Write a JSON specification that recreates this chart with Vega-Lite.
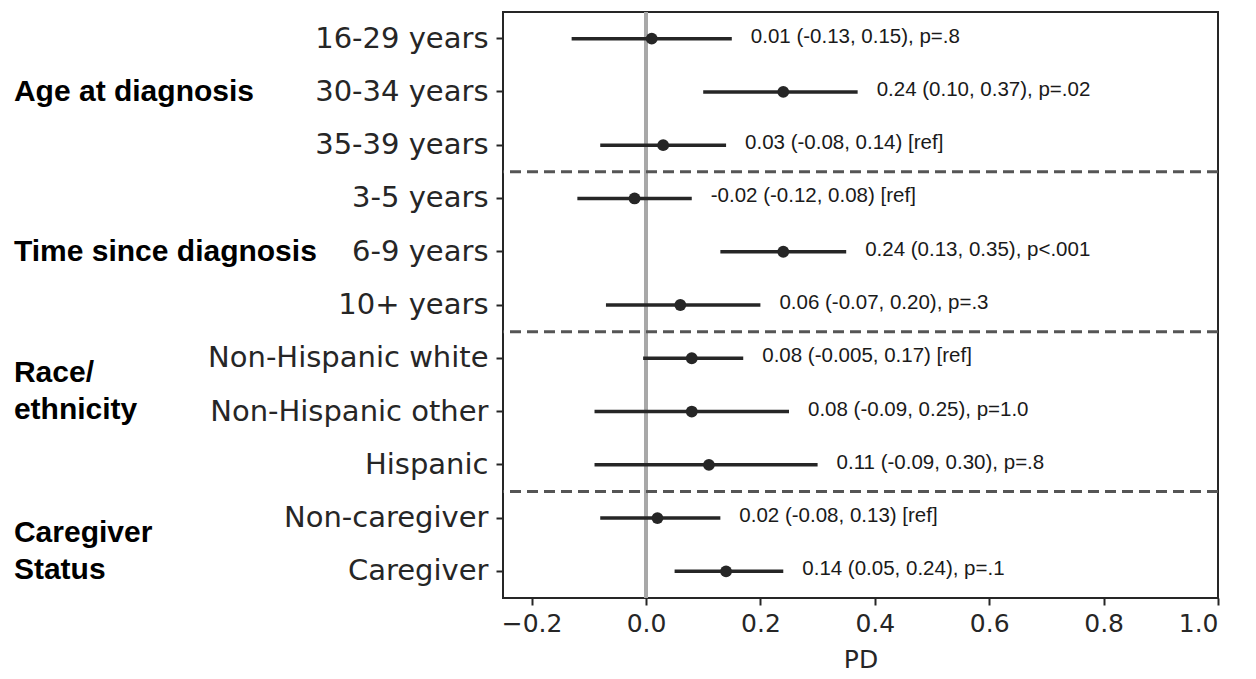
{
  "$schema": "https://vega.github.io/schema/vega-lite/v6.json",
  "autosize": "none",
  "width": 715,
  "height": 586,
  "padding": {"left": 503, "top": 12, "right": 38, "bottom": 81},
  "background": "white",
  "config": {
    "view": {"stroke": "#262626", "strokeWidth": 2},
    "axis": {"grid": false, "domain": false, "tickColor": "#262626", "tickSize": 7, "tickWidth": 2, "labelColor": "#262626", "labelFont": "DejaVu Sans", "titleFont": "DejaVu Sans", "titleColor": "#262626"}
  },
  "data": {
    "values": [
      {"row": "16-29 years", "group": "Age at diagnosis", "est": 0.01, "lo": -0.13, "hi": 0.15, "label": "0.01 (-0.13, 0.15), p=.8"},
      {"row": "30-34 years", "group": "Age at diagnosis", "est": 0.24, "lo": 0.10, "hi": 0.37, "label": "0.24 (0.10, 0.37), p=.02"},
      {"row": "35-39 years", "group": "Age at diagnosis", "est": 0.03, "lo": -0.08, "hi": 0.14, "label": "0.03 (-0.08, 0.14) [ref]"},
      {"row": "3-5 years", "group": "Time since diagnosis", "est": -0.02, "lo": -0.12, "hi": 0.08, "label": "-0.02 (-0.12, 0.08) [ref]"},
      {"row": "6-9 years", "group": "Time since diagnosis", "est": 0.24, "lo": 0.13, "hi": 0.35, "label": "0.24 (0.13, 0.35), p<.001"},
      {"row": "10+ years", "group": "Time since diagnosis", "est": 0.06, "lo": -0.07, "hi": 0.20, "label": "0.06 (-0.07, 0.20), p=.3"},
      {"row": "Non-Hispanic white", "group": "Race/\nethnicity", "est": 0.08, "lo": -0.005, "hi": 0.17, "label": "0.08 (-0.005, 0.17) [ref]"},
      {"row": "Non-Hispanic other", "group": "Race/\nethnicity", "est": 0.08, "lo": -0.09, "hi": 0.25, "label": "0.08 (-0.09, 0.25), p=1.0"},
      {"row": "Hispanic", "group": "Race/\nethnicity", "est": 0.11, "lo": -0.09, "hi": 0.30, "label": "0.11 (-0.09, 0.30), p=.8"},
      {"row": "Non-caregiver", "group": "Caregiver\nStatus", "est": 0.02, "lo": -0.08, "hi": 0.13, "label": "0.02 (-0.08, 0.13) [ref]"},
      {"row": "Caregiver", "group": "Caregiver\nStatus", "est": 0.14, "lo": 0.05, "hi": 0.24, "label": "0.14 (0.05, 0.24), p=.1"}
    ]
  },
  "encoding": {
    "y": {
      "field": "row", "type": "nominal",
      "sort": ["16-29 years", "30-34 years", "35-39 years", "3-5 years", "6-9 years", "10+ years", "Non-Hispanic white", "Non-Hispanic other", "Hispanic", "Non-caregiver", "Caregiver"],
      "scale": {"type": "band", "paddingInner": 0, "paddingOuter": 0, "domain": ["16-29 years", "30-34 years", "35-39 years", "3-5 years", "6-9 years", "10+ years", "Non-Hispanic white", "Non-Hispanic other", "Hispanic", "Non-caregiver", "Caregiver"]},
      "axis": {"title": null, "labelFontSize": 29, "labelPadding": 8, "labelLimit": 0}
    }
  },
  "layer": [
    {
      "mark": {"type": "rule", "color": "#a8a8a8", "strokeWidth": 3},
      "encoding": {"x": {"datum": 0, "type": "quantitative"}, "y": null}
    },
    {
      "transform": [{"filter": "indexof(['35-39 years','10+ years','Hispanic'], datum.row) >= 0"}],
      "mark": {"type": "rule", "color": "#555555", "strokeWidth": 3, "strokeDash": [11, 6]},
      "encoding": {"y": {"field": "row", "type": "nominal", "bandPosition": 1, "sort": ["16-29 years", "30-34 years", "35-39 years", "3-5 years", "6-9 years", "10+ years", "Non-Hispanic white", "Non-Hispanic other", "Hispanic", "Non-caregiver", "Caregiver"]}}
    },
    {
      "mark": {"type": "rule", "color": "#262626", "strokeWidth": 3.5},
      "encoding": {
        "x": {
          "field": "lo", "type": "quantitative",
          "scale": {"domain": [-0.25, 1.0], "nice": false, "zero": false},
          "axis": {"title": "PD", "values": [-0.2, 0, 0.2, 0.4, 0.6, 0.8, 1.0], "labelExpr": "replace(format(datum.value, '.1f'), '-', '\u2212')", "labelFontSize": 25, "labelPadding": 6, "titleFontSize": 25, "titleFontWeight": "normal", "titlePadding": 11}
        },
        "x2": {"field": "hi"}
      }
    },
    {
      "mark": {"type": "point", "filled": true, "color": "#262626", "opacity": 1, "size": 140},
      "encoding": {"x": {"field": "est", "type": "quantitative"}}
    },
    {
      "mark": {"type": "text", "align": "left", "baseline": "middle", "dx": 19, "dy": -2, "font": "Liberation Sans", "fontSize": 20.5, "color": "#1a1a1a"},
      "encoding": {"x": {"field": "hi", "type": "quantitative"}, "text": {"field": "label"}}
    },
    {
      "transform": [{"filter": "datum.row == '30-34 years' || datum.row == '6-9 years'"}],
      "mark": {"type": "text", "align": "left", "baseline": "middle", "font": "Liberation Sans", "fontWeight": "bold", "fontSize": 30, "color": "black"},
      "encoding": {"x": {"datum": -1.105, "type": "quantitative"}, "text": {"field": "group"}}
    },
    {
      "transform": [{"filter": "datum.row == 'Non-Hispanic white' || datum.row == 'Non-caregiver'"}],
      "mark": {"type": "text", "align": "left", "baseline": "middle", "dy": -12, "lineBreak": "\n", "lineHeight": 37, "font": "Liberation Sans", "fontWeight": "bold", "fontSize": 30, "color": "black"},
      "encoding": {
        "x": {"datum": -1.105, "type": "quantitative"},
        "y": {"field": "row", "type": "nominal", "bandPosition": 1, "sort": ["16-29 years", "30-34 years", "35-39 years", "3-5 years", "6-9 years", "10+ years", "Non-Hispanic white", "Non-Hispanic other", "Hispanic", "Non-caregiver", "Caregiver"]},
        "text": {"field": "group"}
      }
    }
  ]
}
